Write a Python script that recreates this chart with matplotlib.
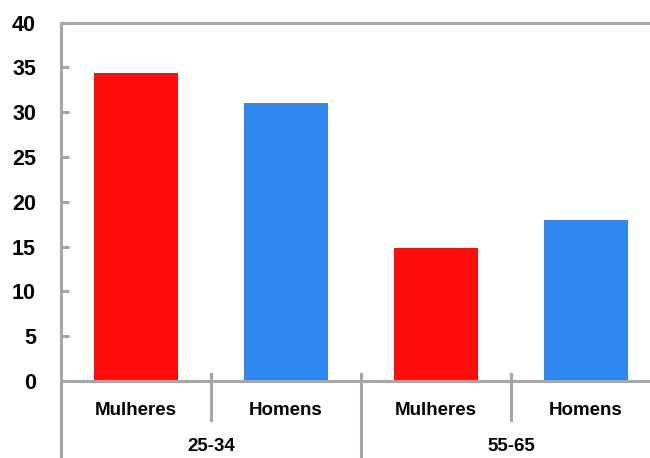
import matplotlib
matplotlib.use("Agg")
import matplotlib.pyplot as plt
import matplotlib.transforms as mtransforms
from matplotlib.lines import Line2D

groups = ["25-34", "55-65"]
sexes = ["Mulheres", "Homens"]
mulheres = [34.4, 14.8]
homens = [31.0, 18.0]
yticks = [0, 5, 10, 15, 20, 25, 30, 35, 40]

red = "#FF0D0D"
blue = "#2E86EE"
gray = "#A6A6A6"

plt.rcParams['font.family'] = 'Liberation Sans'
plt.rcParams['font.weight'] = 'bold'

fig = plt.figure(figsize=(6.5, 4.58), dpi=100)
ax = fig.add_axes([61/650, 1-381/458, 600/650, (381-22.7)/458])

xs, vals, cols, labs = [], [], [], []
for g in range(len(groups)):
    for s, series in enumerate([mulheres, homens]):
        xs.append(g*2 + s)
        vals.append(series[g])
        cols.append(red if s == 0 else blue)
        labs.append(sexes[s])

ax.bar(xs, vals, width=0.56, color=cols, zorder=2)
ax.set_xlim(-0.5, 3.5)
ax.set_ylim(0, 40)
ax.set_yticks(yticks)
ax.set_yticklabels([str(v) for v in yticks], fontsize=15.5, fontweight='bold')
ax.tick_params(axis='y', direction='in', length=6, width=2.2, color=gray, pad=18)
ax.set_xticks([])
for side in ['left', 'top', 'bottom', 'right']:
    ax.spines[side].set_color(gray)
    ax.spines[side].set_linewidth(2.2)

trans = mtransforms.blended_transform_factory(ax.transData, ax.transAxes)
for x, lab in zip(xs, labs):
    ax.text(x, -0.081, lab, transform=trans, ha='center', va='center',
            fontsize=13.5, fontweight='bold')
for g, gl in enumerate(groups):
    ax.text(g*2 + 0.5, -0.184, gl, transform=trans, ha='center', va='center',
            fontsize=13.5, fontweight='bold')

# inner separators
for x in [0.5, 2.5]:
    ax.add_line(Line2D([x, x], [0.0195, -0.109], transform=trans, color=gray,
                       lw=2.2, clip_on=False))
# group separators
for x in [-0.5, 1.5, 3.5]:
    top = 0.0195 if x != -0.5 else 0
    ax.add_line(Line2D([x, x], [top, -0.25], transform=trans, color=gray,
                       lw=2.2, clip_on=False))

fig.savefig("out.png", dpi=100)
